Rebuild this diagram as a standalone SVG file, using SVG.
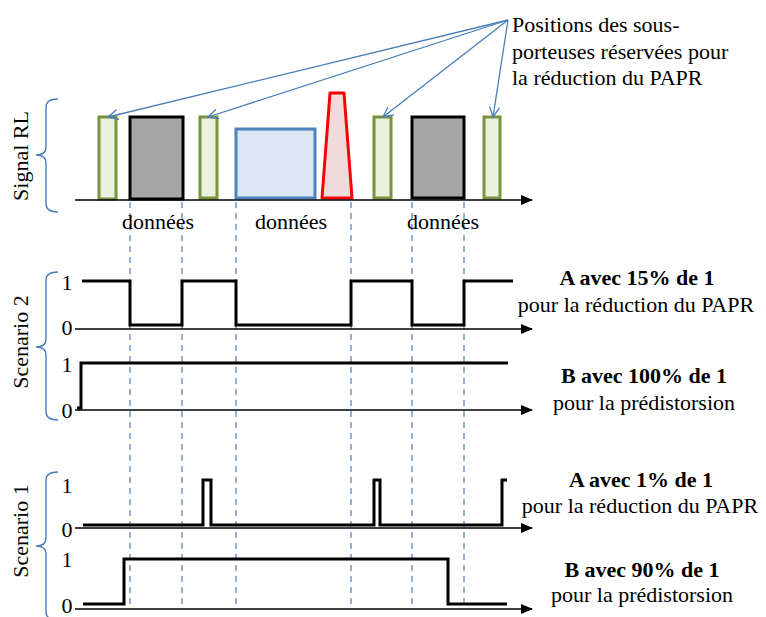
<svg xmlns="http://www.w3.org/2000/svg" width="766" height="617" viewBox="0 0 766 617" font-family="'Liberation Serif', 'Times New Roman', 'DejaVu Serif', serif">
<defs>
<marker id="solid" markerWidth="12" markerHeight="10" refX="11" refY="5" orient="auto" markerUnits="userSpaceOnUse"><path d="M0,0 L12,5 L0,10 Z" fill="#000"/></marker>
<marker id="open" markerWidth="12" markerHeight="12" refX="11" refY="6" orient="auto" markerUnits="userSpaceOnUse"><path d="M1,1 L11,6 L1,11" fill="none" stroke="#4a7ebb" stroke-width="1.3"/></marker>
</defs>
<style>
text{font-family:'Liberation Serif','Times New Roman','DejaVu Serif',serif;font-size:22px;fill:#000}
.b{font-weight:bold}
.m{text-anchor:middle}
.axis{stroke:#000;stroke-width:1.5;fill:none;marker-end:url(#solid)}
.sig{stroke:#000;stroke-width:3;fill:none;stroke-linejoin:miter}
.dash{stroke:#4a7ebb;stroke-width:1.2;stroke-dasharray:6 5;fill:none}
.brace{stroke:#4a7ebb;stroke-width:1.4;fill:none}
.ann{stroke:#4a7ebb;stroke-width:1.3;fill:none;marker-end:url(#open)}
.grn{fill:#ebf1de;stroke:#77933c;stroke-width:3}
.gry{fill:#a6a6a6;stroke:#000;stroke-width:3}
</style>

<g id="dashes">
<line class="dash" x1="130" y1="202" x2="130" y2="606"/>
<line class="dash" x1="182" y1="202" x2="182" y2="606"/>
<line class="dash" x1="236" y1="202" x2="236" y2="606"/>
<line class="dash" x1="351" y1="202" x2="351" y2="606"/>
<line class="dash" x1="412" y1="202" x2="412" y2="606"/>
<line class="dash" x1="464" y1="202" x2="464" y2="606"/>
</g>

<g id="signal-rl">
<path class="brace" d="M58,99 Q46,99 46,107 L46,147 Q46,155 36,155 Q46,155 46,163 L46,204 Q46,212 58,212"/>
<text class="m" transform="translate(28,156) rotate(-90)">Signal RL</text>
<rect id="g1" class="grn" x="99" y="117" width="17" height="82"/>
<rect id="d1" class="gry" x="130" y="117" width="53" height="82"/>
<rect id="g2" class="grn" x="200" y="117" width="17" height="81"/>
<rect id="blue" x="236" y="129" width="79" height="69" fill="#dce6f2" stroke="#4f81bd" stroke-width="3"/>
<polygon id="red" points="330,93 344,93 352,198 322,198" fill="#f2dcdb" stroke="#ff0000" stroke-width="3" stroke-linejoin="round"/>
<rect id="g3" class="grn" x="374" y="117" width="17" height="81"/>
<rect id="d2" class="gry" x="412" y="117" width="52" height="81"/>
<rect id="g4" class="grn" x="484" y="117" width="16" height="81"/>
<line class="axis" x1="75" y1="200" x2="532" y2="200"/>
<text class="m" x="158" y="229">données</text>
<text class="m" x="291" y="229">données</text>
<text class="m" x="443" y="229">données</text>
</g>

<g id="annotation">
<text x="512" y="32">Positions des sous-</text>
<text x="512" y="59">porteuses réservées pour</text>
<text x="512" y="85">la réduction du PAPR</text>
</g>

<g id="connectors">
<line class="ann" x1="508" y1="20" x2="108" y2="117"/>
<line class="ann" x1="508" y1="20" x2="208" y2="117"/>
<line class="ann" x1="508" y1="20" x2="383" y2="117"/>
<line class="ann" x1="508" y1="20" x2="493" y2="117"/>
</g>

<g id="scenario2">
<path class="brace" d="M58,272 Q46,272 46,280 L46,339 Q46,347 36,347 Q46,347 46,355 L46,412 Q46,420 58,420"/>
<text class="m" transform="translate(28,342) rotate(-90)">Scenario 2</text>
<text class="m" x="67" y="290">1</text>
<text class="m" x="67" y="335">0</text>
<line class="axis" x1="75" y1="329" x2="532" y2="329"/>
<path class="sig" d="M82,281 H130 V325 H182 V281 H236 V325 H351 V281 H412 V325 H464 V281 H513"/>
<text class="m" x="67" y="372">1</text>
<text class="m" x="67" y="418">0</text>
<line class="axis" x1="75" y1="410" x2="532" y2="410"/>
<path class="sig" d="M77,408 H81 V363 H508"/>
<text class="m b" x="637" y="285">A avec 15% de 1</text>
<text class="m" x="636" y="312">pour la réduction du PAPR</text>
<text class="m b" x="644" y="383">B avec 100% de 1</text>
<text class="m" x="644" y="410">pour la prédistorsion</text>
</g>

<g id="scenario1">
<path class="brace" d="M58,472 Q46,472 46,480 L46,538 Q46,546 36,546 Q46,546 46,554 L46,612 Q46,620 58,620"/>
<text class="m" transform="translate(28,531) rotate(-90)">Scenario 1</text>
<text class="m" x="67" y="493">1</text>
<text class="m" x="67" y="537">0</text>
<line class="axis" x1="75" y1="528" x2="532" y2="528"/>
<path class="sig" d="M83,525 H203 V480 H211 V525 H374 V480 H380 V525 H502 V480 H507"/>
<text class="m" x="67" y="567">1</text>
<text class="m" x="67" y="613">0</text>
<line class="axis" x1="75" y1="609" x2="532" y2="609"/>
<path class="sig" d="M83,604 H124 V559 H448 V604 H507"/>
<text class="m b" x="641" y="487">A avec 1% de 1</text>
<text class="m" x="640" y="513">pour la réduction du PAPR</text>
<text class="m b" x="642" y="577">B avec 90% de 1</text>
<text class="m" x="642" y="602">pour la prédistorsion</text>
</g>
</svg>
